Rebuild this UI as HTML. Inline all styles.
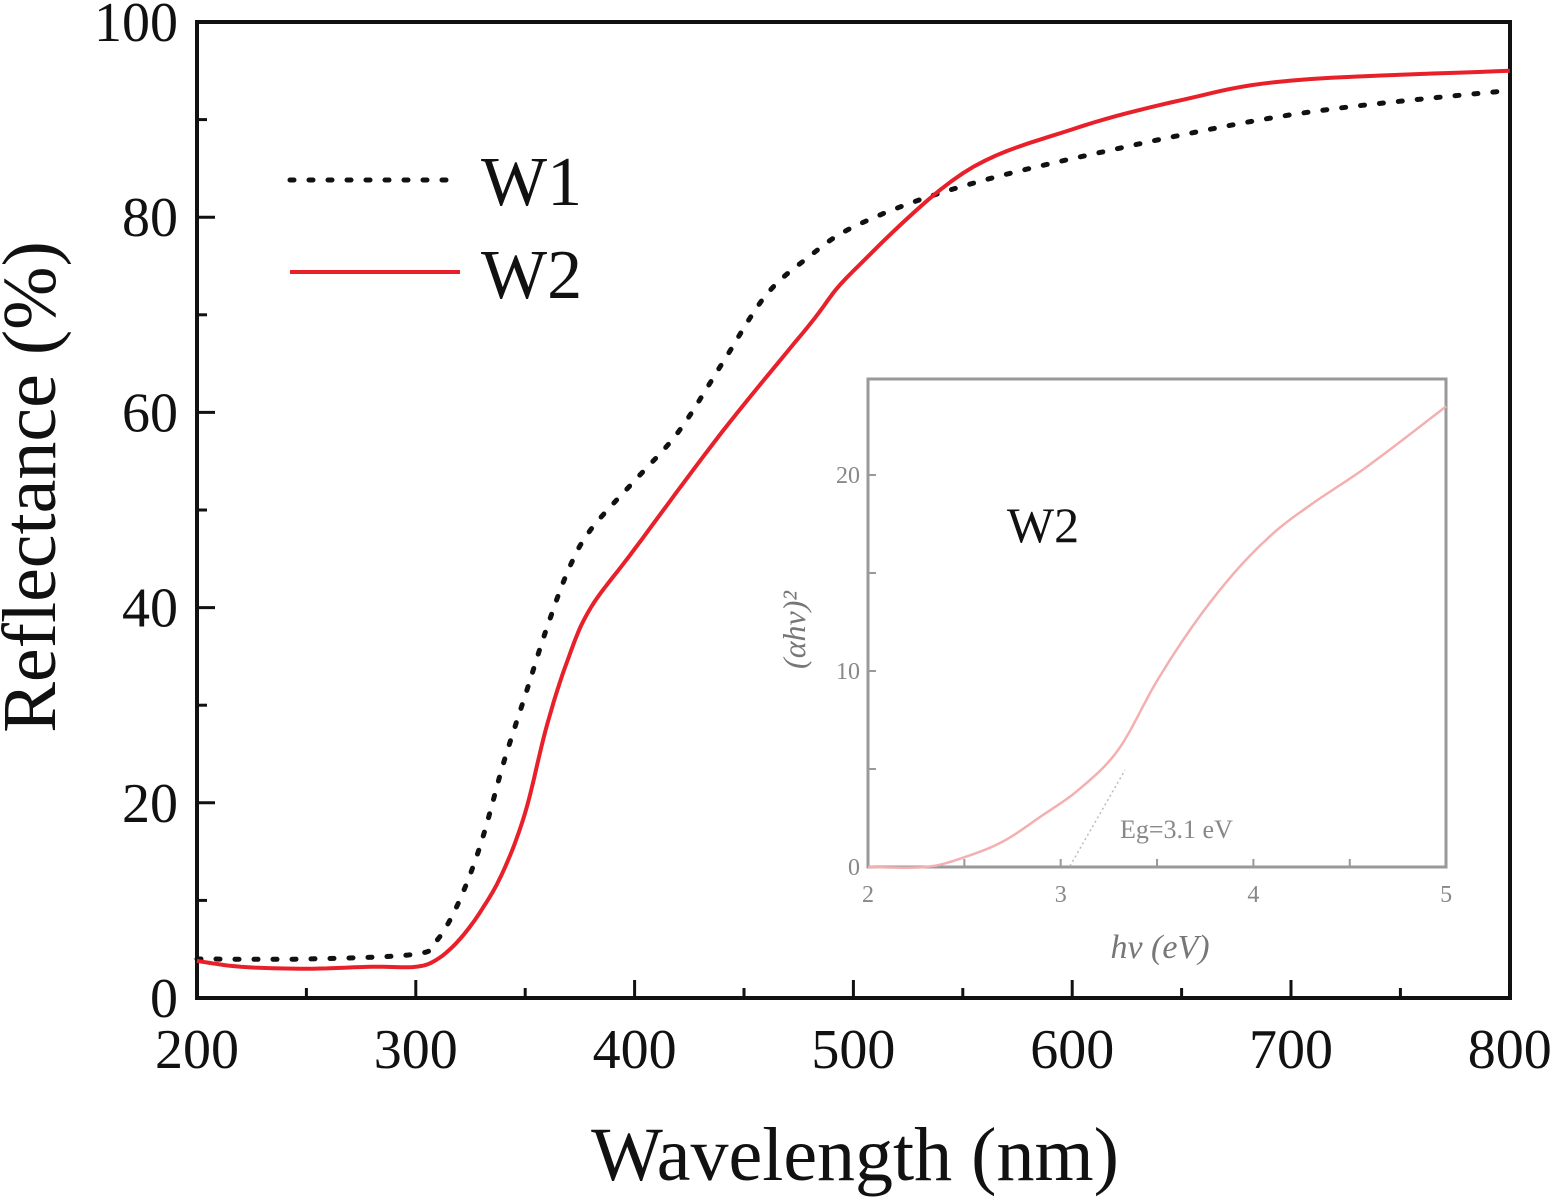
<!DOCTYPE html>
<html><head><meta charset="utf-8"><style>body{margin:0;background:#fff}svg{display:block}text{font-family:"Liberation Serif",serif}</style></head>
<body>
<svg id="s" width="1558" height="1201" viewBox="0 0 1558 1201">
<rect x="197" y="22" width="1313" height="976" fill="none" stroke="#111" stroke-width="4"/>
<g id="ticks" stroke="#111" stroke-width="3"></g>
<g font-size="56" fill="#111" id="labels"></g>
<text x="855" y="1180" font-size="76" text-anchor="middle" fill="#111">Wavelength (nm)</text>
<text transform="translate(55,487) rotate(-90)" font-size="76" text-anchor="middle" fill="#111">Reflectance (%)</text>
<path id="w1" fill="none" stroke="#111" stroke-width="5" stroke-dasharray="4,15" stroke-linecap="round"/>
<path id="w2" fill="none" stroke="#e8202a" stroke-width="4"/>
<line x1="290" y1="180" x2="460" y2="180" stroke="#111" stroke-width="5" stroke-dasharray="4,15" stroke-linecap="round"/>
<text x="481" y="205" font-size="70" fill="#111">W1</text>
<line x1="290" y1="272" x2="460" y2="272" stroke="#e8202a" stroke-width="4"/>
<text x="481" y="298" font-size="70" fill="#111">W2</text>
<!-- inset -->
<rect x="868" y="379" width="578" height="488" fill="#fff" stroke="#999" stroke-width="3"/>
<g id="iticks" stroke="#999" stroke-width="2"></g>
<g font-size="24" fill="#888" id="ilabels"></g>
<text x="1043" y="542" font-size="50" fill="#111" text-anchor="middle">W2</text>
<text x="1160" y="958" font-size="34" fill="#777" text-anchor="middle" font-style="italic">hv (eV)</text>
<text transform="translate(805,630) rotate(-90)" font-size="32" fill="#777" text-anchor="middle" font-style="italic">(αhv)²</text>
<text x="1120" y="838" font-size="26" fill="#888">Eg=3.1 eV</text>
<path id="ic" fill="none" stroke="#f4b0b0" stroke-width="2.5"/>
<line x1="1070" y1="866" x2="1125" y2="770" stroke="#bbb" stroke-width="1.5" stroke-dasharray="2,3"/>
</svg>
<script>
var X=w=>197+(w-200)*2.188,Y=r=>998-r*9.76;
function path(d,fx,fy){return d.map((p,i)=>(i?'L':'M')+fx(p[0]).toFixed(1)+','+fy(p[1]).toFixed(1)).join('');}
function smooth(d){var o=[];for(var i=0;i<d.length-1;i++){for(var t=0;t<1;t+=0.1){var p0=d[Math.max(i-1,0)],p1=d[i],p2=d[i+1],p3=d[Math.min(i+2,d.length-1)];var f=(a,b,c,e)=>0.5*(2*b+(-a+c)*t+(2*a-5*b+4*c-e)*t*t+(-a+3*b-3*c+e)*t*t*t);o.push([f(p0[0],p1[0],p2[0],p3[0]),f(p0[1],p1[1],p2[1],p3[1])]);}}o.push(d[d.length-1]);return o;}
var w1=[[200,4],[250,4],[300,4.5],[310,6],[320,10],[330,16],[340,24],[350,31],[360,38],[370,44],[380,48],[400,53],[420,58],[440,65],[460,72],[480,76],[500,79],[540,82.5],[600,86],[700,90.5],[800,93]];
var w2=[[200,3.8],[220,3.2],[250,3],[280,3.2],[300,3.2],[310,4],[320,6],[330,9],[340,13],[350,19],[360,28],[370,35],[380,40],[400,46],[440,58],[480,69],[500,74.5],[550,84.5],[600,89],[650,92],[700,94],[800,95]];
document.getElementById('w1').setAttribute('d',path(smooth(w1),X,Y));
document.getElementById('w2').setAttribute('d',path(smooth(w2),X,Y));
var t='',l='';
for(var r=0;r<=100;r+=10){var y=Y(r);t+=`<line x1="197" y1="${y}" x2="${r%20?207:215}" y2="${y}"/>`;if(r%20==0)l+=`<text x="178" y="${y+19}" text-anchor="end">${r}</text>`;}
for(var w=200;w<=800;w+=50){var x=X(w);t+=`<line x1="${x}" y1="998" x2="${x}" y2="${w%100?988:980}"/>`;if(w%100==0)l+=`<text x="${x}" y="1068" text-anchor="middle">${w}</text>`;}
document.getElementById('ticks').innerHTML=t;document.getElementById('labels').innerHTML=l;
var IX=e=>868+(e-2)*192.7,IY=v=>867-v*19.6;t='';l='';
for(var v=0;v<=20;v+=5){var y=IY(v);t+=`<line x1="868" y1="${y}" x2="876" y2="${y}"/>`;if(v%10==0)l+=`<text x="860" y="${y+8}" text-anchor="end">${v}</text>`;}
for(var e=2;e<=5;e+=0.5){var x=IX(e);t+=`<line x1="${x}" y1="867" x2="${x}" y2="859"/>`;if(e%1==0)l+=`<text x="${x}" y="902" text-anchor="middle">${e}</text>`;}
document.getElementById('iticks').innerHTML=t;document.getElementById('ilabels').innerHTML=l;
var ic=[[2,0],[2.3,0],[2.5,0.5],[2.7,1.3],[2.9,2.6],[3.1,4],[3.3,6],[3.5,9.5],[3.7,12.5],[3.9,15],[4.1,17],[4.3,18.5],[4.6,20.5],[5,23.5]];
document.getElementById('ic').setAttribute('d',path(smooth(ic),IX,IY));
</script>
</body></html>
